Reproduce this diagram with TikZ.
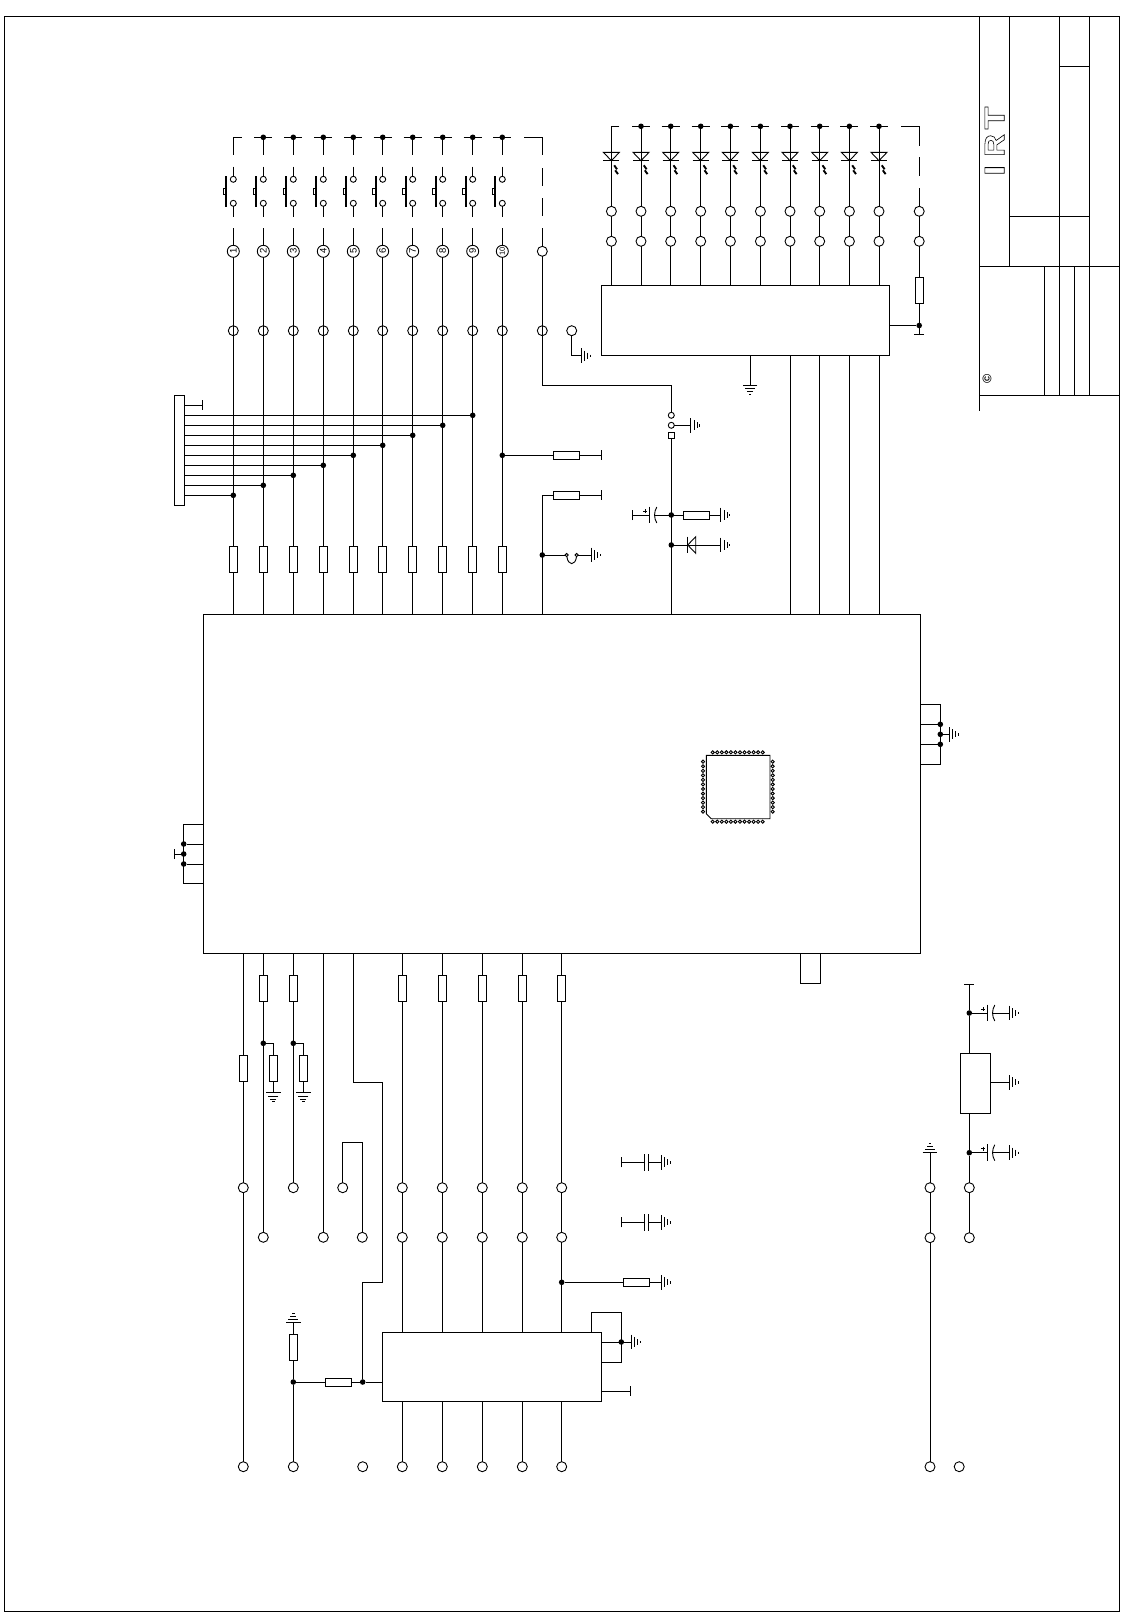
\documentclass[tikz,border=0pt]{standalone}
\usepackage{fontspec}
\setmainfont{Liberation Sans}
\usetikzlibrary{arrows.meta}
\newcommand{\hollowtext}[1]{\special{pdf:code 1 Tr 0.55 w}#1\special{pdf:code 0 Tr}}
\newcommand{\logoletter}[2]{\resizebox{#1}{19.3pt}{\fontsize{27}{27}\selectfont\bfseries\hollowtext{#2}}}
\tikzset{
    block/.style={draw, rectangle, inner sep=0pt, outer sep=0pt},
    pad/.style={draw, circle, fill=white, inner sep=0pt, outer sep=0pt, minimum size=10pt},
    xpad/.style={draw, circle, inner sep=0pt, outer sep=0pt, minimum size=10pt},
    spad/.style={draw, circle, fill=white, inner sep=0pt, outer sep=0pt, minimum size=6pt},
    pin/.style={draw, circle, fill=white, inner sep=0pt, outer sep=0pt, minimum size=3.2pt},
    numpad/.style={draw, circle, fill=white, inner sep=0pt, outer sep=0pt, minimum size=12pt, rotate=90,
                   font=\fontsize{9.5}{9.5}\selectfont},
    jun/.style={circle, fill=black, inner sep=0pt, outer sep=0pt, minimum size=5.6pt},
    resv/.style={draw, rectangle, fill=white, inner sep=0pt, outer sep=0pt, minimum width=8pt, minimum height=26pt},
    resh/.style={draw, rectangle, fill=white, inner sep=0pt, outer sep=0pt, minimum width=26.4pt, minimum height=8pt},
    tee/.style={-{Bar[width=10pt,line width=.9pt]}},
    gnd/.pic={
            \draw (0,-7.3) -- (0,7.3);
            \draw (3.3,-5) -- (3.3,5);
            \draw (6.3,-3) -- (6.3,3);
            \draw (9,-1.2) -- (9,1.2);
        },
    capn/.pic={
            \draw (-2,-8.3) -- (-2,8.3);
            \draw (2,-8.3) -- (2,8.3);
        },
    capp/.pic={
            \draw (0,-8.3) -- (0,8.3);
            \draw (7.5,-8) .. controls (4.5,-3) and (4.5,3) .. (7.5,8);
            \draw (-6,-4) -- (-2,-4);
            \draw (-4,-6) -- (-4,-2);
        },
    diodeh/.pic={
            \draw (0,-8.3) -- (0,8.3);
            \draw (0,0) -- (8,-8.3) -- (8,8.3) -- cycle;
        },
    ledv/.pic={
            \draw (-8,0) -- (8,0) -- (0,8.4) -- cycle;
            \draw (-8,8.4) -- (8,8.4);
            \draw[line width=1.9pt] (2.8,13) -- (5.6,17);
            \draw[line width=1.9pt] (3.8,18) -- (6.6,21.8);
        },
    swv/.pic={
            \draw[line width=1.7pt] (-7,-12) -- (-7,18.7);
            \draw (-10.3,0) rectangle (-7,6);
        }
}
\begin{document}
\begin{tikzpicture}[x=1pt, y=-1pt, line width=.9pt]
    \useasboundingbox (0,0) rectangle (1129,1612);
    \node[block, minimum width=1115pt, minimum height=1594.3pt] (F) at (561.8,813.85) {};
    \node[block, minimum width=717pt, minimum height=339pt] (M) at (561.8,783.8) {};
    \node[block, minimum width=287.8pt, minimum height=70pt] (B2) at (745.2,320.3) {};
    \node[block, minimum width=218.6pt, minimum height=69pt] (B3) at (492,1366.8) {};
    \node[block, minimum width=30pt, minimum height=60pt] (B4) at (975.3,1083.3) {};
    \node[block, minimum width=20pt, minimum height=30pt] (B5) at (810.3,968.3) {};
    \node[block, minimum width=10pt, minimum height=110pt] (K) at (179.3,450.3) {};

    \draw (979.3,16.7) -- (979.3,410.7);
    \draw (1009.3,16.7) -- (1009.3,266.3);
    \draw (1059.3,16.7) -- (1059.3,395.3);
    \draw (1089.3,16.7) -- (1089.3,395.3);
    \draw (1059.3,66.3) -- (1089.3,66.3);
    \draw (1009.3,216.3) -- (1089.3,216.3);
    \draw (979.3,266.3) -- (1119.3,266.3);
    \draw (979.3,395.3) -- (1119.3,395.3);
    \draw (1044.3,266.3) -- (1044.3,395.3);
    \draw (1074.3,266.3) -- (1074.3,395.3);
    \node[inner sep=0pt, rotate=90] (logo) at (994.6,141.2) {\logoletter{10.7pt}{I}\hspace{8.3pt}\logoletter{22.7pt}{R}\hspace{4.7pt}\logoletter{22.7pt}{T}};
    \node[inner sep=0pt, rotate=90, font=\fontsize{12.5}{12.5}\selectfont\bfseries] (mark) at (987,379) {©};

    \foreach \i/\x in {1/233.3,2/263.3,3/293.3,4/323.3,5/353.3,6/382.7,7/412.7,8/442.7,9/472.7} {
            \node[numpad] (C\i) at (\x,251.3) {\i};
        }
    \node[numpad, font=\fontsize{7.5}{7.5}\selectfont] (C10) at (502.3,251.3) {10};
    \foreach \i/\x in {1/233.3,2/263.3,3/293.3,4/323.3,5/353.3,6/382.7,7/412.7,8/442.7,9/472.7,10/502.3} {
            \coordinate (TT\i) at (\x,137.3);
            \coordinate (TA\i) at (\x,155);
            \coordinate (TB\i) at (\x,166.7);
            \coordinate (TC\i) at (\x,216.7);
            \coordinate (TD\i) at (\x,228.3);
            \node[spad] (SA\i) at (\x,179.3) {};
            \node[spad] (SB\i) at (\x,203.3) {};
            \node[xpad] (X\i) at (\x,330.7) {};
            \node[resv] (R\i) at (\x,559.8) {};
            \pic at (\x,188.3) {swv};
            \draw (TT\i) -- (TA\i);
            \draw (TB\i) -- (SA\i);
            \draw (SB\i) -- (TC\i);
            \draw (TD\i) -- (C\i);
            \draw (C\i) -- (R\i);
            \draw (R\i) -- (R\i |- M.north);
        }
    \foreach \i in {2,...,10} {
            \node[jun] (D\i) at (TT\i) {};
            \draw ([xshift=-9pt]TT\i) -- ([xshift=9pt]TT\i);
        }
    \draw ([xshift=8.4pt]TT1) -- (TT1);

    \coordinate (TTe) at (524,137.3);
    \coordinate (Te1) at (542.3,137.3);
    \coordinate (Te2) at (542.3,155);
    \coordinate (Te3) at (542.3,168.3);
    \coordinate (Te4) at (542.3,186);
    \coordinate (Te5) at (542.3,198);
    \coordinate (Te6) at (542.3,215.7);
    \coordinate (Te7) at (542.3,228.3);
    \coordinate (Te8) at (542.3,385.3);
    \node[pad] (Ce) at (542.3,251.3) {};
    \node[xpad] (Xe) at (542.3,330.7) {};
    \node[spad] (SPa) at (671.3,415.3) {};
    \node[spad] (SPb) at (671.3,425.3) {};
    \node[draw, rectangle, fill=white, inner sep=0pt, outer sep=0pt, minimum size=6.4pt] (SPc) at (671.3,435.3) {};
    \draw (TTe) -- (Te1) -- (Te2);
    \draw (Te3) -- (Te4);
    \draw (Te5) -- (Te6);
    \draw (Te7) -- (Ce);
    \draw (Ce) -- (Te8) -| (SPa);
    \coordinate (Ga) at (690.7,425.3);
    \pic at (Ga) {gnd};
    \draw (SPb) -- (Ga);

    \node[pad] (Xf) at (571.7,330.7) {};
    \coordinate (Gb) at (581,355.7);
    \pic at (Gb) {gnd};
    \draw (Xf) |- (Gb);

    \foreach \i/\y in {1/495.3,2/485.3,3/475.3,4/465.3,5/455.3,6/445.3,7/435.3,8/425.3,9/415.3} {
            \node[jun] (Q\i) at (R\i |- 0,\y) {};
            \draw (Q\i -| K.east) -- (Q\i);
        }
    \coordinate (Kt) at (203.3,405.3);
    \draw[tee] (Kt -| K.east) -- (Kt);

    \node[jun] (Q10) at (502.3,455.3) {};
    \node[resh] (Ra) at (566.6,455.3) {};
    \coordinate (Ta) at (601.7,455.3);
    \draw (Q10) -- (Ra);
    \draw[tee] (Ra) -- (Ta);

    \coordinate (Hb) at (542.3,495.3);
    \node[resh] (Rb) at (566.6,495.3) {};
    \coordinate (Tb) at (601.7,495.3);
    \draw (Hb |- M.north) -- (Hb) -- (Rb);
    \draw[tee] (Rb) -- (Tb);

    \node[jun] (Jj) at (542.3,555) {};
    \node[pin] (JA) at (566.7,555) {};
    \node[pin] (JB) at (576.7,555) {};
    \coordinate (Gc) at (591.3,555);
    \pic at (Gc) {gnd};
    \draw (Jj) -- (JA);
    \draw (JA) .. controls (568,566) and (575.4,566) .. (JB);
    \draw (JB) -- (Gc);

    \node[jun] (Jc) at (671.3,515) {};
    \node[jun] (Jd) at (671.3,545) {};
    \coordinate (CA1) at (649.3,515);
    \coordinate (CA2) at (654,515);
    \coordinate (Tc) at (631.7,515);
    \pic at (CA1) {capp};
    \draw[tee] (CA1) -- (Tc);
    \draw (CA2) -- (Jc);
    \node[resh] (Rc) at (696.5,515) {};
    \coordinate (Gd) at (720.7,515);
    \pic at (Gd) {gnd};
    \draw (Jc) -- (Rc) -- (Gd);
    \coordinate (Da) at (687.7,545);
    \coordinate (Ge) at (720.7,545);
    \pic at (Da) {diodeh};
    \pic at (Ge) {gnd};
    \draw (Jd) -- (Da);
    \draw (Da) -- (Ge);
    \draw (SPc) -- (SPc |- M.north);

    \foreach \i/\x in {1/611.4,2/641,3/670.7,4/700.7,5/730.4,6/760.4,7/790,8/819.7,9/849.4,10/879} {
            \coordinate (LT\i) at (\x,126.3);
            \node[pad] (LA\i) at (\x,211.3) {};
            \node[pad] (LB\i) at (\x,241.3) {};
            \pic at (\x,152.3) {ledv};
            \draw (LT\i) -- (LA\i);
            \draw (LA\i) -- (LB\i);
            \draw (LB\i) -- (LB\i |- B2.north);
        }
    \foreach \i in {2,...,10} {
            \node[jun] (LD\i) at (LT\i) {};
            \draw ([xshift=-9pt]LT\i) -- ([xshift=9pt]LT\i);
        }
    \draw ([xshift=8pt]LT1) -- (LT1);
    \foreach \i in {7,...,10} {
            \draw (LB\i |- B2.south) -- (LB\i |- M.north);
        }
    \coordinate (Le1) at (901,126.3);
    \coordinate (Le2) at (919.2,126.3);
    \coordinate (Le3) at (919.2,146);
    \coordinate (Le4) at (919.2,157.3);
    \coordinate (Le5) at (919.2,176);
    \coordinate (Le6) at (919.2,188.3);
    \node[pad] (LAe) at (919.2,211.3) {};
    \node[pad] (LBe) at (919.2,241.3) {};
    \node[resv] (Re) at (919.2,290.7) {};
    \node[jun] (Je) at (919.2,325.5) {};
    \coordinate (Te) at (919.2,335.3);
    \draw (Le1) -- (Le2) -- (Le3);
    \draw (Le4) -- (Le5);
    \draw (Le6) -- (LAe);
    \draw (LAe) -- (LBe);
    \draw (LBe) -- (Re);
    \draw (Re) -- (Je);
    \draw[tee] (Je) -- (Te);
    \draw (Je -| B2.east) -- (Je);
    \coordinate (Gf) at (750,385);
    \pic[rotate=-90] at (Gf) {gnd};
    \draw (Gf |- B2.south) -- (Gf);

    \draw (706.3,755.3) -- (770,755.3) -- (770,818.7) -- (711.3,818.7) -- (706.3,813.7) -- cycle;
    \foreach \i in {0,...,11} {
            \node[pin] (PT\i) at ({712.7+\i*4.545},752.3) {};
            \node[pin] (PB\i) at ({712.7+\i*4.545},821.7) {};
            \node[pin] (PL\i) at (703,{761.7+\i*4.545}) {};
            \node[pin] (PR\i) at (772.7,{761.7+\i*4.545}) {};
        }

    \coordinate (Ka) at (183.3,824.3);
    \coordinate (Kb) at (183.3,883.3);
    \node[jun] (Kc) at (183.7,844) {};
    \node[jun] (Kd) at (183.7,854) {};
    \node[jun] (Ke) at (183.7,864) {};
    \coordinate (Tk) at (174.3,854);
    \draw (Ka -| M.west) -- (Ka) -- (Kb) -- (Kb -| M.west);
    \draw (Kc -| M.west) -- (Kc);
    \draw (Ke -| M.west) -- (Ke);
    \draw[tee] (Kd) -- (Tk);

    \coordinate (Ma) at (940.3,704.3);
    \coordinate (Mb) at (940.3,764.3);
    \node[jun] (Mc) at (940.3,724.3) {};
    \node[jun] (Md) at (940.3,734.3) {};
    \node[jun] (Me) at (940.3,744.3) {};
    \coordinate (Gg) at (949.3,734.3);
    \pic at (Gg) {gnd};
    \draw (Ma -| M.east) -- (Ma) -- (Mb) -- (Mb -| M.east);
    \draw (Mc -| M.east) -- (Mc);
    \draw (Me -| M.east) -- (Me);
    \draw (Md) -- (Gg);

    \node[pad] (U1) at (243.3,1187.7) {};
    \node[pad] (W1) at (243.3,1466.7) {};
    \node[resv] (S1) at (243.3,1068.3) {};
    \draw (U1 |- M.south) -- (S1) -- (U1);
    \draw (U1) -- (W1);

    \node[resv] (S2) at (263.3,988.5) {};
    \node[jun] (H2) at (263.3,1043.3) {};
    \node[pad] (V2) at (263.3,1237.3) {};
    \node[resv] (S3) at (273.3,1068.3) {};
    \coordinate (G2) at (273.3,1092.7);
    \pic[rotate=-90] at (G2) {gnd};
    \draw (S2 |- M.south) -- (S2) -- (V2);
    \draw (H2) -| (S3);
    \draw (S3) -- (G2);

    \node[resv] (S4) at (293.3,988.5) {};
    \node[jun] (H4) at (293.3,1043.3) {};
    \node[pad] (U4) at (293.3,1187.7) {};
    \node[resv] (S5) at (303.3,1068.3) {};
    \coordinate (G4) at (303.3,1092.7);
    \pic[rotate=-90] at (G4) {gnd};
    \draw (S4 |- M.south) -- (S4) -- (U4);
    \draw (H4) -| (S5);
    \draw (S5) -- (G4);

    \node[pad] (V6) at (323.3,1237.3) {};
    \draw (V6 |- M.south) -- (V6);

    \node[pad] (U7) at (342.7,1187.7) {};
    \node[pad] (V7) at (362.3,1237.3) {};
    \coordinate (E7) at (362.3,1142.3);
    \draw (U7) |- (E7) -- (V7);

    \coordinate (Ea) at (353.3,953.3);
    \coordinate (Eb) at (382.7,1082.3);
    \coordinate (Ec) at (382.7,1282.3);
    \node[jun] (Ed) at (362.7,1382) {};
    \node[pad] (We) at (362.7,1466.7) {};
    \draw (Ea) |- (Eb) -- (Ec) -| (Ed);
    \draw (Ed) -- (Ed -| B3.west);

    \foreach \i/\x in {1/402.3,2/442.3,3/482.3,4/522.3,5/561.7} {
            \node[resv] (RT\i) at (\x,988.5) {};
            \node[pad] (UT\i) at (\x,1187.7) {};
            \node[pad] (VT\i) at (\x,1237.3) {};
            \node[pad] (WT\i) at (\x,1466.7) {};
            \draw (RT\i |- M.south) -- (RT\i) -- (UT\i);
            \draw (UT\i) -- (VT\i);
            \draw (VT\i) -- (VT\i |- B3.north);
            \draw (WT\i |- B3.south) -- (WT\i);
        }

    \foreach \i/\y in {1/1162.3,2/1222.3} {
            \coordinate (CT\i) at (621.3,\y);
            \coordinate (CC\i) at (646.3,\y);
            \coordinate (CG\i) at (661.3,\y);
            \pic at (CC\i) {capn};
            \pic at (CG\i) {gnd};
            \draw[tee] ([xshift=-2pt]CC\i) -- (CT\i);
            \draw ([xshift=2pt]CC\i) -- (CG\i);
        }

    \node[jun] (Ja) at (561.7,1282.3) {};
    \node[resh] (Rd) at (636.5,1282.3) {};
    \coordinate (Gh) at (661.3,1282.3);
    \pic at (Gh) {gnd};
    \draw (Ja) -- (Rd) -- (Gh);

    \coordinate (La) at (591.3,1332.3);
    \coordinate (Lb) at (621.3,1312.3);
    \coordinate (Ld) at (621.3,1362.3);
    \node[jun] (Lc) at (621.3,1342) {};
    \coordinate (Gi) at (631.3,1342);
    \coordinate (Tl) at (631.3,1391.3);
    \pic at (Gi) {gnd};
    \draw (La) |- (Lb) -- (Ld) -- (Ld -| B3.east);
    \draw (Lc -| B3.east) -- (Lc) -- (Gi);
    \draw[tee] (Tl -| B3.east) -- (Tl);

    \coordinate (Gj) at (293.3,1322.3);
    \pic[rotate=90] at (Gj) {gnd};
    \node[resv] (Rf) at (293.3,1347.3) {};
    \node[jun] (Jf) at (293.3,1382) {};
    \node[pad] (W4) at (293.3,1466.7) {};
    \node[resh] (Rg) at (338.5,1382) {};
    \draw (Gj) -- (Rf) -- (Jf) -- (W4);
    \draw (Jf) -- (Rg) -- (Ed);

    \coordinate (Tr) at (969.3,983.7);
    \node[jun] (Jg) at (969.3,1013) {};
    \node[jun] (Jh) at (969.3,1152.7) {};
    \node[pad] (Ur) at (969.3,1187.7) {};
    \node[pad] (Vr) at (969.3,1237.7) {};
    \coordinate (Gk) at (930,1152.7);
    \node[pad] (Uk) at (930,1187.7) {};
    \node[pad] (Vk) at (930,1237.7) {};
    \node[pad] (Wk) at (930,1466.7) {};
    \node[pad] (Wl) at (959.2,1466.7) {};
    \pic[rotate=90] at (Gk) {gnd};
    \draw (Gk) -- (Uk) -- (Vk) -- (Wk);
    \draw[tee] (Jg) -- (Tr);
    \draw (Jg) -- (Jg |- B4.north);
    \draw (Jh |- B4.south) -- (Jh) -- (Ur) -- (Vr);
    \foreach \n/\y in {Jg/1013,Jh/1152.7} {
            \coordinate (C\n a) at (987.3,\y);
            \coordinate (C\n b) at (992.3,\y);
            \coordinate (C\n g) at (1009.3,\y);
            \pic at (C\n a) {capp};
            \pic at (C\n g) {gnd};
            \draw (\n) -- (C\n a);
            \draw (C\n b) -- (C\n g);
        }
    \coordinate (Gl) at (1009.3,1082.3);
    \pic at (Gl) {gnd};
    \draw (Gl -| B4.east) -- (Gl);
\end{tikzpicture}
\end{document}
